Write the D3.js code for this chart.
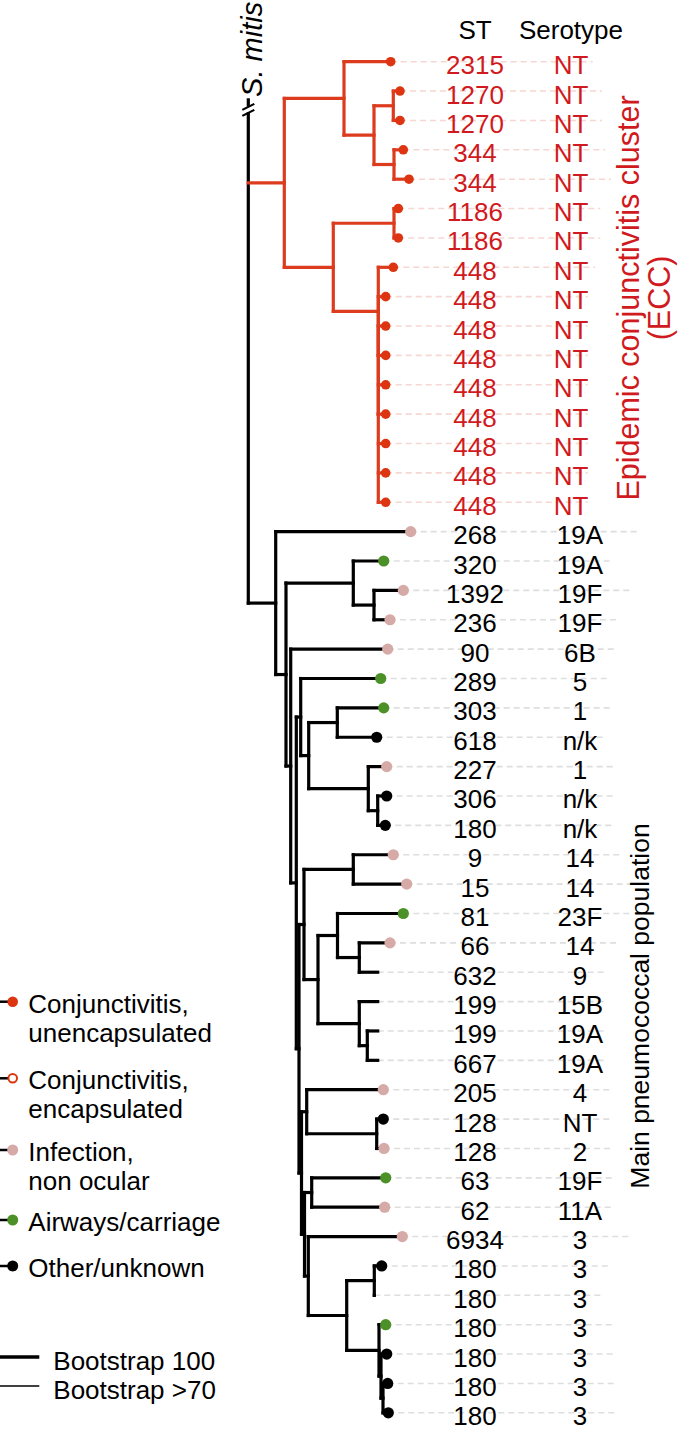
<!DOCTYPE html>
<html><head><meta charset="utf-8">
<script src="https://cdn.jsdelivr.net/npm/d3@7"></script>
<style>
body{margin:0;background:#fff}
svg{display:block}
text{font-family:"Liberation Sans",Arial,Helvetica,sans-serif}
</style>
</head><body>
<svg id="chart" width="685" height="1430"></svg>
<script>
// ---------------- DATA ----------------
const stLabels = ["2315","1270","1270","344","344","1186","1186","448","448","448","448","448","448","448","448","448",
  "268","320","1392","236","90","289","303","618","227","306","180","9","15","81","66","632","199","199","667",
  "205","128","128","63","62","6934","180","180","180","180","180","180"];
const serotypes = ["NT","NT","NT","NT","NT","NT","NT","NT","NT","NT","NT","NT","NT","NT","NT","NT",
  "19A","19A","19F","19F","6B","5","1","n/k","1","n/k","n/k","14","14","23F","14","9","15B","19A","19A",
  "4","NT","2","19F","11A","3","3","3","3","3","3","3"];
// source: U = conjunctivitis unencapsulated, I = infection non ocular, A = airways/carriage, O = other/unknown, "" = none
const sources = ["U","U","U","U","U","U","U","U","U","U","U","U","U","U","U","U",
  "I","A","I","I","I","A","A","O","I","O","O","I","I","A","I","","","","",
  "I","O","I","A","I","I","O","","A","O","O","O"];
// tip depths (branch distance from root, arbitrary units)
const tipDepth = [142.4,151.7,151.7,155,160.7,150,150,145,137.4,137.4,137.4,137.4,137.4,137.4,137.4,137.4,
  162.4,135.4,155,141.7,139.4,132.4,135.4,128.4,138.4,138.4,137,145,158.4,155,141.7,129.4,129.4,129.4,129.4,
  135,135,135.7,137.4,136.4,154,133.4,126,137.4,138.4,139.4,140];
// tree topology: node = [depth, children...]; leaves = row index
const eccTree = [36,
  [95.7, 0, [125.7, [145, 1, 2], [145.7, 3, 4]]],
  [85, [145.7, 5, 6], [130, 7, [130, 8, [130, 9, 10, 11, 12, 13, 14, 15]]]]];
const mainTree = [27.4, 16,
  [37.7,
    [105, 17, [125.7, 18, 19]],
    [42.4, 20,
      [48,
        [52.4, 21, [60.4, [89, 22, 23], [120, 24, [129.4, 25, 26]]]],
        [50.7,
          [55.7, [105, 27, 28], [69.7, [89.2, 29, [111, 30, 31]], [111, 32, [119, 33, 34]]]],
          [53.2, [58.4, 35, [128.4, 36, 37]],
            [56.2, [63.4, 38, 39],
              [60, 40, [98.4, [126, 41, 42], [130.7, 43, [132.7, 44, [134.7, 45, 46]]]]]]]]]]]];
const legendItems = [
  {key:"U", lines:["Conjunctivitis,","unencapsulated"]},
  {key:"E", lines:["Conjunctivitis,","encapsulated"]},
  {key:"I", lines:["Infection,","non ocular"]},
  {key:"A", lines:["Airways/carriage"]},
  {key:"O", lines:["Other/unknown"]}];
const bootstrapItems = ["Bootstrap 100","Bootstrap >70"];

// ---------------- STYLE ----------------
const RED_LINE = "#dc3b1d", RED_DOT = "#dd3512", RED_TEXT = "#d01a20";
const colors = {U: RED_DOT, E: RED_DOT, I: "#d6aaa6", A: "#4b9128", O: "#000"};
const FS = 26;
const N_ECC = 16;

const svg = d3.select("#chart");
const rows = d3.range(stLabels.length);
const y = d3.scalePoint().domain(rows).range([61.7, 1412.8]);
const step = y.step();
const x = d3.scaleLinear().domain([0, 165]).range([248.3, 413.3]);

function toHier(n) {
  if (typeof n === "number") return {row: n};
  return {depth: n[0], children: n.slice(1).map(toHier)};
}
function layout(tree) {
  const h = d3.hierarchy(toHier(tree));
  h.eachAfter(nd => {
    if (nd.data.row !== undefined) {
      nd.px = x(tipDepth[nd.data.row]); nd.py = y(nd.data.row);
    } else {
      nd.px = x(nd.data.depth);
      nd.py = d3.mean(nd.children, c => c.py);
    }
  });
  return h;
}
const eccH = layout(eccTree);
const mainH = layout(mainTree);

const gDash = svg.append("g");
const gTree = svg.append("g").attr("fill", "none").attr("stroke-width", 3.2).attr("stroke-linecap", "square");
const gDots = svg.append("g");
const gText = svg.append("g").style("font-size", FS + "px");

// dashed guide lines
gDash.selectAll("line").data(rows).join("line")
  .attr("x1", i => x(tipDepth[i])).attr("x2", i => x(tipDepth[i]) + (i < N_ECC ? 202 : 226))
  .attr("y1", i => y(i)).attr("y2", i => y(i))
  .attr("stroke", i => i < N_ECC ? "#f6d8d2" : "#dedede")
  .attr("stroke-width", 1.6).attr("stroke-dasharray", "6,4");

// tree segments
function drawTree(h, color) {
  const segs = [];
  h.each(nd => {
    if (nd.children) {
      segs.push([nd.px, d3.min(nd.children, c => c.py), nd.px, d3.max(nd.children, c => c.py)]);
      nd.children.forEach(c => segs.push([nd.px, c.py, c.px, c.py]));
    }
  });
  gTree.append("g").attr("stroke", color).selectAll("line").data(segs).join("line")
    .attr("x1", d => d[0]).attr("y1", d => d[1]).attr("x2", d => d[2]).attr("y2", d => d[3]);
}
drawTree(eccH, RED_LINE);
drawTree(mainH, "#000");

// root with truncated S. mitis branch
const rootX = x(0);
const sMitisTop = y(0) + 1.3 * step;
const gRoot = gTree.append("g");
gRoot.append("line").attr("x1", rootX).attr("x2", rootX).attr("y1", sMitisTop + 14).attr("y2", mainH.py).attr("stroke", "#000");
gRoot.append("line").attr("x1", rootX).attr("x2", rootX).attr("y1", sMitisTop).attr("y2", sMitisTop + 5).attr("stroke", "#000");
[sMitisTop + 7, sMitisTop + 13].forEach(v => gRoot.append("line")
  .attr("x1", rootX - 6).attr("x2", rootX + 6).attr("y1", v + 3).attr("y2", v - 3)
  .attr("stroke", "#000").attr("stroke-width", 2.2).attr("stroke-linecap", "butt"));
gRoot.append("line").attr("x1", rootX).attr("x2", eccH.px).attr("y1", eccH.py).attr("y2", eccH.py).attr("stroke", RED_LINE);
gRoot.append("line").attr("x1", rootX).attr("x2", mainH.px).attr("y1", mainH.py).attr("y2", mainH.py).attr("stroke", "#000");

svg.append("text").attr("transform", `translate(${rootX + 13.5},${sMitisTop - 3}) rotate(-90)`)
  .style("font-size", "29px").style("font-style", "italic").text("S. mitis");

// dots
gDots.selectAll("circle").data(rows.filter(i => sources[i])).join("circle")
  .attr("cx", i => x(tipDepth[i])).attr("cy", i => y(i))
  .attr("r", i => sources[i] === "U" ? 4.8 : 5.6)
  .attr("fill", i => colors[sources[i]]);

// labels
const stX = 475, seroX = i => i < N_ECC ? 571 : 580;
gText.append("text").attr("x", stX).attr("y", 39).attr("text-anchor", "middle").text("ST");
gText.append("text").attr("x", 571).attr("y", 39).attr("text-anchor", "middle").text("Serotype");
gText.selectAll("text.st").data(rows).join("text").attr("class", "st")
  .attr("x", stX).attr("y", i => y(i) + 12.5).attr("text-anchor", "middle")
  .attr("fill", i => i < N_ECC ? RED_TEXT : "#000").text(i => stLabels[i]);
gText.selectAll("text.sero").data(rows).join("text").attr("class", "sero")
  .attr("x", seroX).attr("y", i => y(i) + 12.5).attr("text-anchor", "middle")
  .attr("fill", i => i < N_ECC ? RED_TEXT : "#000").text(i => serotypes[i]);

// cluster labels
const eccLab = svg.append("text").attr("transform", `translate(638.5,298) rotate(-90)`)
  .attr("text-anchor", "middle").attr("fill", RED_TEXT).style("font-size", "30.5px");
eccLab.append("tspan").attr("x", 0).attr("dy", 0).text("Epidemic conjunctivitis cluster");
eccLab.append("tspan").attr("x", 0).attr("dy", 31).text("(ECC)");
svg.append("text").attr("transform", `translate(649,1006) rotate(-90)`)
  .attr("text-anchor", "middle").style("font-size", "26.5px").text("Main pneumococcal population");

// legend
const legY = [1001.7, 1078.3, 1150, 1220, 1266];
const gLeg = svg.append("g").style("font-size", FS + "px");
legendItems.forEach((it, k) => {
  const g = gLeg.append("g").attr("transform", `translate(0,${legY[k]})`);
  g.append("line").attr("x1", 0).attr("x2", 10).attr("stroke", "#000").attr("stroke-width", 2.5);
  if (it.key === "E") g.append("circle").attr("cx", 12.7).attr("r", 4.3).attr("fill", "#fff").attr("stroke", RED_DOT).attr("stroke-width", 2);
  else g.append("circle").attr("cx", 12.7).attr("r", it.key === "U" ? 5.3 : 5.5).attr("fill", colors[it.key]);
  it.lines.forEach((l, j) => g.append("text").attr("x", 28.3).attr("y", 11 + j * 29).text(l));
});
const bsY = [1357, 1386];
bootstrapItems.forEach((t, k) => {
  gLeg.append("line").attr("x1", 0).attr("x2", 39.3).attr("y1", bsY[k]).attr("y2", bsY[k])
    .attr("stroke", "#000").attr("stroke-width", k === 0 ? 3.4 : 1.3);
  gLeg.append("text").attr("x", 53.3).attr("y", bsY[k] + 13).text(t);
});
</script>
</body></html>
